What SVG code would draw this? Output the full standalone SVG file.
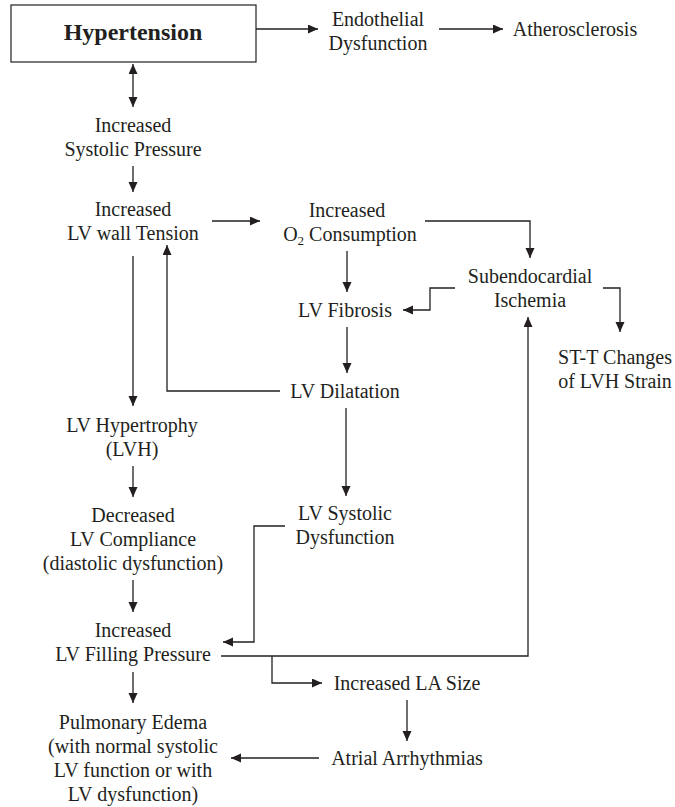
<svg xmlns="http://www.w3.org/2000/svg" width="675" height="807" viewBox="0 0 675 807">
<style>
text{font-family:"Liberation Serif","Times New Roman",serif;font-size:20px;fill:#231f20;text-anchor:middle}
.b{font-weight:bold;font-size:24px}
.box{fill:#fff;stroke:#231f20;stroke-width:1.2}
#connectors path{fill:none;stroke:#231f20;stroke-width:1.3;marker-end:url(#ah)}
</style>
<defs>
<marker id="ah" markerUnits="userSpaceOnUse" markerWidth="11" markerHeight="10" refX="10" refY="4.5" orient="auto-start-reverse" viewBox="0 0 11 10">
<path d="M0,0 L10,4.5 L0,9 z" fill="#231f20"/>
</marker>
</defs>
<rect width="675" height="807" fill="#fff"/>
<g id="connectors">
<path d="M133,64 V107" style="marker-start:url(#ah)"/>
<path d="M256,29 H318"/>
<path d="M439,29 H503"/>
<path d="M133,166 V192"/>
<path d="M212,221 H260"/>
<path d="M425,221 H530 V258"/>
<path d="M347,251 V292"/>
<path d="M455,288 H430 V310 H403"/>
<path d="M603,288 H620 V332"/>
<path d="M133,256 V406"/>
<path d="M280,391 H167 V245"/>
<path d="M347,327 V373"/>
<path d="M346,408 V496"/>
<path d="M133,466 V497"/>
<path d="M133,580 V612"/>
<path d="M285,526 H254 V642 H223"/>
<path d="M221,656 H528 V317"/>
<path d="M272,656 V683 H322"/>
<path d="M407,700 V741"/>
<path d="M319,758 H231"/>
<path d="M133,672 V703"/>
</g>
<g id="n-htn"><rect class="box" x="11" y="5" width="245" height="57"/><text class="b" x="133" y="40">Hypertension</text></g>
<g id="n-endo"><text x="378" y="26">Endothelial</text><text x="378" y="50">Dysfunction</text></g>
<g id="n-athero"><text x="575" y="36">Atherosclerosis</text></g>
<g id="n-sys"><text x="133" y="132">Increased</text><text x="133" y="156">Systolic Pressure</text></g>
<g id="n-lvwt"><text x="133" y="216">Increased</text><text x="133" y="240">LV wall Tension</text></g>
<g id="n-o2"><text x="347" y="217">Increased</text><text x="350" y="241">O<tspan font-size="13" dy="4">2</tspan><tspan dy="-4"> Consumption</tspan></text></g>
<g id="n-sub"><text x="530" y="283">Subendocardial</text><text x="530" y="307">Ischemia</text></g>
<g id="n-fib"><text x="345" y="317">LV Fibrosis</text></g>
<g id="n-stt"><text x="615" y="364">ST-T Changes</text><text x="615" y="388">of LVH Strain</text></g>
<g id="n-dil"><text x="345" y="398">LV Dilatation</text></g>
<g id="n-lvh"><text x="132" y="432">LV Hypertrophy</text><text x="132" y="456">(LVH)</text></g>
<g id="n-lvsd"><text x="345" y="520">LV Systolic</text><text x="345" y="544">Dysfunction</text></g>
<g id="n-dec"><text x="133" y="522">Decreased</text><text x="133" y="546">LV Compliance</text><text x="133" y="570">(diastolic dysfunction)</text></g>
<g id="n-lvfp"><text x="133" y="637">Increased</text><text x="133" y="661">LV Filling Pressure</text></g>
<g id="n-la"><text x="407" y="690">Increased LA Size</text></g>
<g id="n-af"><text x="407" y="765">Atrial Arrhythmias</text></g>
<g id="n-pe"><text x="133" y="729">Pulmonary Edema</text><text x="133" y="753">(with normal systolic</text><text x="133" y="777">LV function or with</text><text x="133" y="801">LV dysfunction)</text></g>
</svg>
